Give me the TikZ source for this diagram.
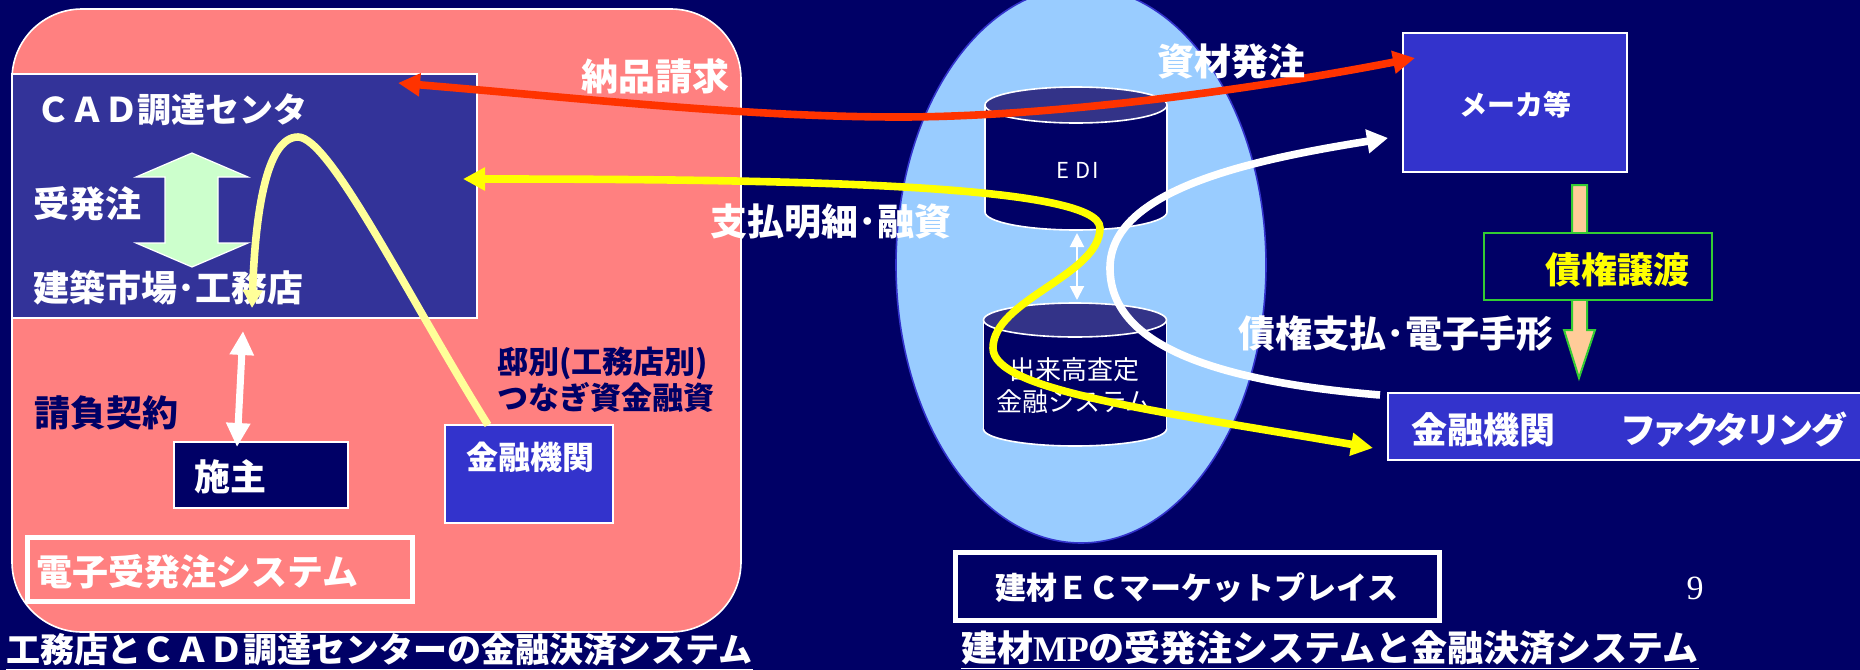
\documentclass[tikz,border=0pt]{standalone}
\usepackage{fontspec}
\setmainfont{Noto Sans CJK JP}
\newfontfamily\jpp{Noto Sans CJK JP}[RawFeature=+palt]
\newfontfamily\serifmp{Liberation Serif}
\usetikzlibrary{arrows.meta,shapes.geometric}
\definecolor{navy}{HTML}{000066}
\definecolor{pinkfill}{HTML}{FF8080}
\definecolor{cadblue}{HTML}{333399}
\definecolor{boxblue}{HTML}{3333CC}
\definecolor{mint}{HTML}{CCFFCC}
\definecolor{skyblue}{HTML}{99CCFF}
\definecolor{cyltop}{HTML}{333388}
\definecolor{arrred}{HTML}{FF3300}
\definecolor{arryel}{HTML}{FFFF00}
\definecolor{paleyel}{HTML}{FFFF99}
\definecolor{peach}{HTML}{FFCC99}
\definecolor{grn}{HTML}{33CC33}
\newcommand\FSz[1]{\fontsize{#1}{#1}\selectfont}
\tikzset{bigtip/.tip={Triangle[length=11pt,width=11pt]}}
\begin{document}
\begin{tikzpicture}[x=0.5pt,y=-0.5pt,
  every node/.style={inner sep=0pt,outer sep=0pt},
  lbl/.style={text=white,font=\bfseries\FSz{18}},
  nlbl/.style={text=navy,font=\bfseries\FSz{18}},
  panel/.style={draw=white,line width=0.8pt,anchor=north west},
  flow/.style={line width=3.8pt}
]
\useasboundingbox (0,0) rectangle (1860,670);
\fill[navy] (0,0) rectangle (1860,670);

% ---------- left panel ----------
\node[panel, fill=pinkfill, rounded corners=35pt, minimum width=364.5pt, minimum height=311.5pt] (pinkpanel) at (12,9) {};
\node[panel, fill=cadblue, minimum width=232.5pt, minimum height=122pt] (cad) at (12,74) {};
\node[lbl, anchor=west, font=\bfseries\FSz{17}] (cadt) at (36,110) {ＣＡＤ調達センタ};
\node[lbl, anchor=west] (juhatchu) at (33,204) {受発注};
\node[lbl, anchor=west] (kenchiku) at (33,288) {建築市場･工務店};
\filldraw[fill=mint, draw=white, line width=0.6pt] (192,153) -- (248,177) -- (218,177) -- (218,243) -- (248,243) -- (192,267) -- (136,243) -- (165,243) -- (165,177) -- (136,177) -- cycle;

\node[nlbl, anchor=west] (ukeoi) at (34,413) {請負契約};
\node[panel, fill=navy, minimum width=87pt, minimum height=33pt] (seshu) at (174,442) {};
\node[lbl, anchor=west] (seshut) at (194,477) {施主};
\node[panel, fill=boxblue, minimum width=84pt, minimum height=49pt] (bankL) at (445,425) {};
\node[lbl, font=\bfseries\FSz{16}] (bankLt) at (530,457) {金融機関};
\node[nlbl, anchor=west, align=left, font=\bfseries\fontsize{15.5}{18}\selectfont] (teibetsu) at (497,380) {邸別(工務店別)\\つなぎ資金融資};
\node[panel, line width=2.5pt, minimum width=192.5pt, minimum height=32pt] (edenshi) at (27,537) {};
\node[lbl, anchor=west] (edensht) at (36,572) {電子受発注システム};
\node[lbl, anchor=west, font=\bfseries\FSz{17}] (capL) at (6,652) {\underline{工務店とＣＡＤ調達センターの金融決済システム}};

% ---------- marketplace ----------
\node[ellipse, fill=skyblue, draw=boxblue, line width=0.8pt, minimum width=185pt, minimum height=278pt] (mp) at (1081,265) {};

% EDI cylinder
\draw[white, line width=0.8pt, fill=navy] (1076,212) ellipse [x radius=45.5pt, y radius=9pt];
\fill[navy] (985,105) rectangle (1167,212);
\draw[white, line width=0.8pt] (985,105) -- (985,212) (1167,105) -- (1167,212);
\draw[white, line width=0.8pt, fill=cyltop] (1076,105) ellipse [x radius=45.5pt, y radius=9pt];
\node[text=white, font=\FSz{11}] (edit) at (1078,170) {E\hspace{3pt}D\hspace{1pt}I};

% lower cylinder
\draw[white, line width=0.8pt, fill=navy] (1075,429) ellipse [x radius=45.75pt, y radius=8.5pt];
\fill[navy] (983.5,320) rectangle (1166.5,429);
\draw[white, line width=0.8pt] (983.5,320) -- (983.5,429) (1166.5,320) -- (1166.5,429);
\draw[white, line width=0.8pt, fill=cyltop] (1075,320) ellipse [x radius=45.75pt, y radius=8.5pt];
\node[text=white, align=center, font=\fontsize{13}{16}\selectfont] (dekit) at (1074,386) {出来高査定\\金融システム};

\coordinate (edibot) at (1077,233);
\coordinate (fintop) at (1077,300);
\draw[white, line width=1pt, {Triangle[length=7pt,width=7pt]}-{Triangle[length=7pt,width=7pt]}] (edibot) -- (fintop);

% ---------- right side ----------
\node[panel, fill=boxblue, minimum width=112pt, minimum height=69.5pt] (maker) at (1403,33) {};
\node[lbl, font=\bfseries\FSz{14}] (makert) at (1515,105) {メーカ等};
\node[panel, fill=boxblue, minimum width=240pt, minimum height=33.5pt] (factor) at (1388,393) {};
\node[lbl, anchor=west] (bankR) at (1411,430) {金融機関};
\node[lbl, anchor=west, font=\bfseries\jpp\FSz{18}] (factt) at (1623,430) {ファクタリング};

\filldraw[fill=peach, draw=grn, line width=1pt] (1572,185) -- (1587,185) -- (1587,330) -- (1595,330) -- (1579,378) -- (1564,330) -- (1572,330) -- cycle;
\node[panel, fill=navy, draw=grn, line width=1.2pt, minimum width=114pt, minimum height=33.5pt] (joto) at (1484,233) {};
\node[lbl, text=arryel] (jotot) at (1617,270) {債権譲渡};

\node[panel, fill=navy, line width=2.5pt, minimum width=242pt, minimum height=34pt] (ecmp) at (955,552) {};
\node[lbl, font=\bfseries\FSz{15.5}] (ecmpt) at (1197,588) {建材ＥＣマーケットプレイス};
\node[text=white, font=\serifmp\FSz{17}] (pnum) at (1695,588) {9};
\node[lbl, anchor=west] (capR) at (961,650) {\underline{建材{\serifmp MP}の受発注システムと金融決済システム}};

% ---------- connectors ----------
\coordinate (cadB) at (243,331);
\coordinate (seshuT) at (237,447);
\draw[white, line width=3.5pt, {Triangle[length=12pt,width=11.5pt]}-{Triangle[length=12pt,width=11.5pt]}] (cadB) -- (seshuT);

\coordinate (nohinL) at (398,83);
\coordinate (makerIn) at (1415,58);
\draw[flow, arrred, bigtip-bigtip] (nohinL) .. controls (600,100) and (750,117) .. (900,117) .. controls (1050,117) and (1250,90) .. (makerIn);

\coordinate (payL) at (463,179);
\coordinate (payR) at (1373,448);
\draw[flow, arryel, bigtip-bigtip] (payL) .. controls (800,179) and (1100,185) .. (1100,228) .. controls (1100,275) and (993,300) .. (993,348) .. controls (993,390) and (1150,410) .. (payR);

\coordinate (loanS) at (488,425);
\coordinate (loanE) at (252,308);
\draw[flow, paleyel, -{Triangle[length=9pt,width=9.5pt]}] (loanS) .. controls (408,297) and (330,137) .. (298,137) .. controls (265,137) and (255,220) .. (loanE);

\coordinate (clmS) at (1380,395);
\coordinate (clmE) at (1388,138);
\draw[flow, white, -{Triangle[length=10.5pt,width=11.5pt]}] (clmS) .. controls (1200,380) and (1110,340) .. (1110,268) .. controls (1110,190) and (1250,160) .. (clmE);

% ---------- flow labels ----------
\node[lbl, font=\bfseries\FSz{18.5}] (nohin) at (655,76) {納品請求};
\node[lbl, font=\bfseries\FSz{18.5}] (shizai) at (1231,61) {資材発注};
\node[lbl, font=\bfseries\FSz{18.5}] (shiharai) at (831,222) {支払明細･融資};
\node[lbl, font=\bfseries\FSz{18.5}] (saiken) at (1396,333) {債権支払･電子手形};
\end{tikzpicture}
\end{document}
